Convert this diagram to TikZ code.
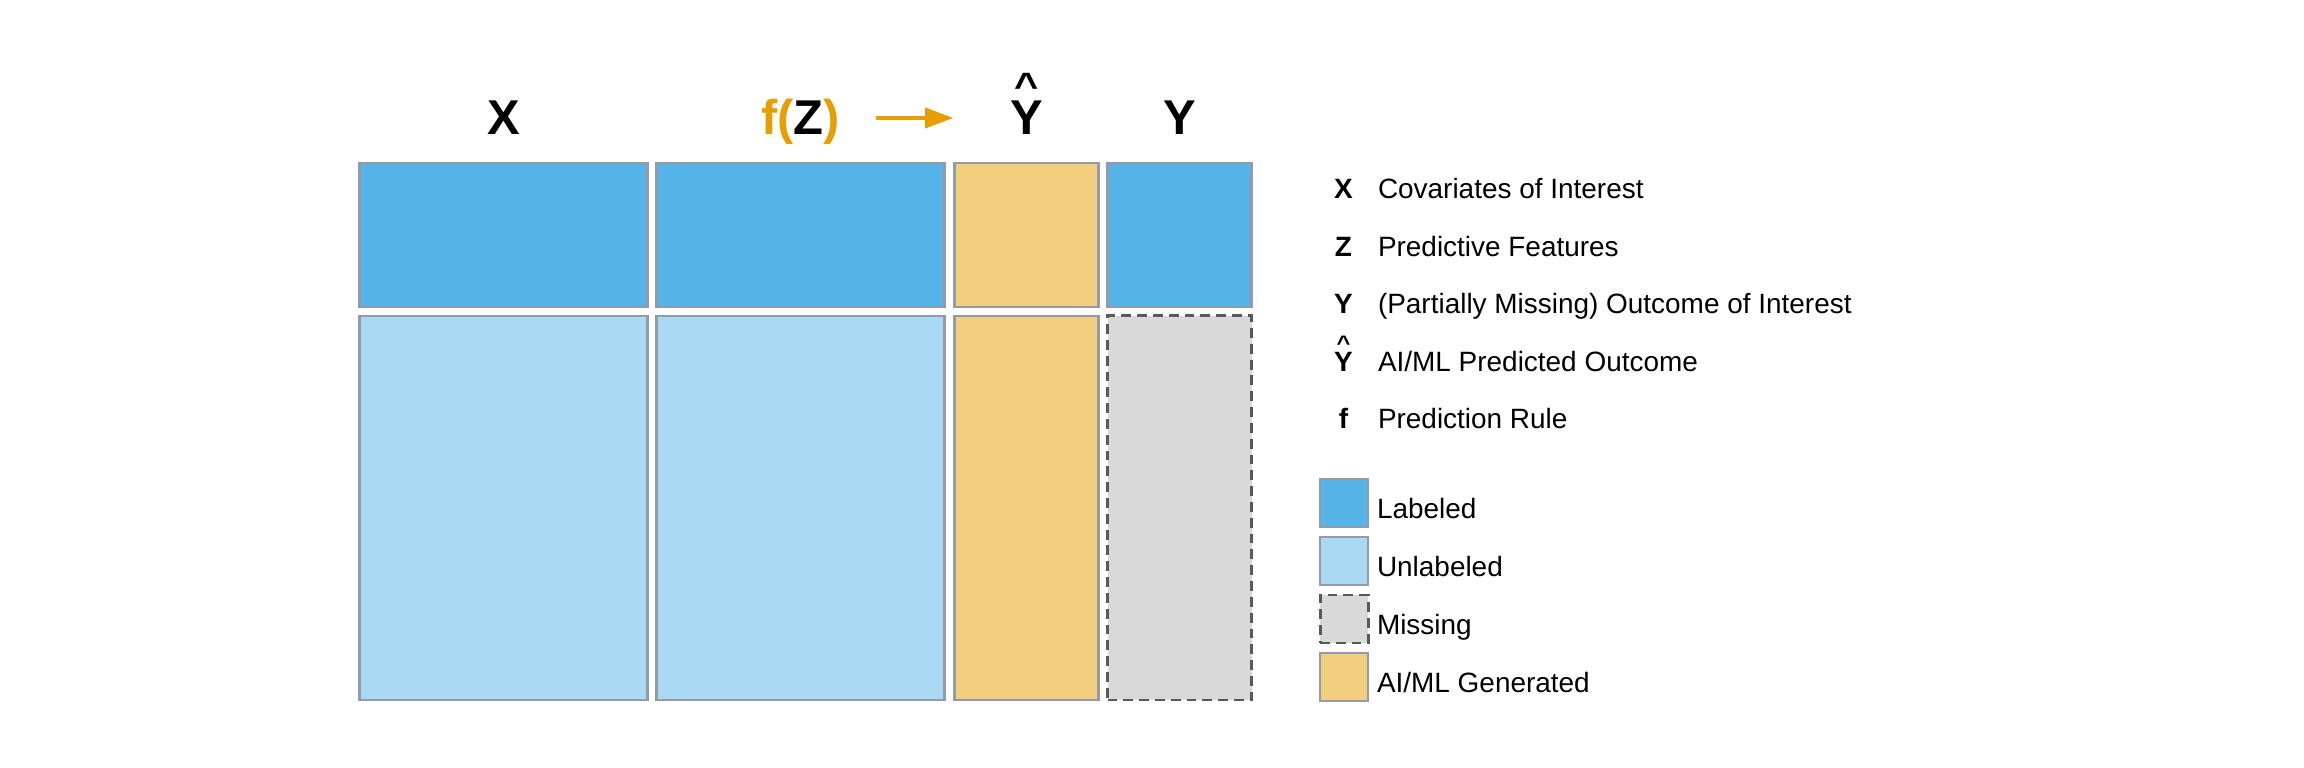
\documentclass[tikz,border=0pt]{standalone}
\usepackage{fontspec}
\setmainfont{Liberation Sans}
\usepackage{tikz}
\usetikzlibrary{arrows.meta, positioning}

\definecolor{skyblue}{HTML}{56B4E9}
\definecolor{paleblue}{HTML}{AAD9F4}
\definecolor{sand}{HTML}{F2CF7F}
\definecolor{ochre}{HTML}{E69F00}
\definecolor{missgray}{HTML}{D9D9D9}
\definecolor{edgegray}{HTML}{939BA8}
\definecolor{dashgray}{HTML}{595959}

\newcommand{\hatY}{\makebox[0pt][l]{\makebox[\fontcharwd\font`Y][c]{\raisebox{0.74em}{\scalebox{0.85}[0.75]{\textasciicircum}}}}Y}

\begin{document}
\begin{tikzpicture}[x=1cm, y=1cm, node distance=0.09cm]
\tikzset{every node/.style={inner sep=0mm, outer sep=0mm}}

\tikzstyle{cell}=[rectangle, draw=edgegray, line width=0.6pt]
\tikzstyle{labeled}=[cell, fill=skyblue]
\tikzstyle{unlabeled}=[cell, fill=paleblue]
\tikzstyle{generated}=[cell, fill=sand]
\tikzstyle{absent}=[rectangle, fill=missgray, draw=dashgray, line width=0.85pt, dash pattern=on 2.8pt off 1.7pt]
\tikzstyle{wide}=[minimum width=2.88cm]
\tikzstyle{narrow}=[minimum width=1.44cm]
\tikzstyle{toprow}=[minimum height=1.44cm]
\tikzstyle{lowrow}=[minimum height=3.84cm]
\tikzstyle{swatch}=[minimum width=0.48cm, minimum height=0.48cm]
\tikzstyle{head}=[font=\fontsize{13.9}{16}\selectfont\bfseries]
\tikzstyle{keyletter}=[font=\fontsize{7.95}{9.5}\selectfont\bfseries, anchor=base]
\tikzstyle{desc}=[font=\fontsize{7.95}{9.5}\selectfont, anchor=base west]
\tikzstyle{flow}=[-{Triangle[length=2.8mm, width=2mm]}, draw=ochre, line width=1.1pt]

\path[use as bounding box, fill=white] (0,0) rectangle (23.04,7.68);

% data table
\node[labeled, wide, toprow, anchor=north west] (x top) at (3.595,6.05) {};
\node[labeled, wide, toprow, right=of x top] (z top) {};
\node[generated, narrow, toprow, right=0.1cm of z top] (yhat top) {};
\node[labeled, narrow, toprow, right=of yhat top] (y top) {};

\node[unlabeled, wide, lowrow, below=of x top] (x bottom) {};
\node[unlabeled, wide, lowrow, below=of z top] (z bottom) {};
\node[generated, narrow, lowrow, below=of yhat top] (yhat bottom) {};
\node[absent, narrow, lowrow, below=of y top] (y bottom) {};

% column heads
\node[head, above=2.8mm of x top, anchor=base] (x label) {X};
\node[head, above=2.8mm of z top, anchor=base] (z label) {\textcolor{ochre}{f(}Z\textcolor{ochre}{)}};
\node[head, above=2.8mm of yhat top, anchor=base] (yhat label) {\hatY};
\node[head, above=2.8mm of y top, anchor=base] (y label) {Y};

\draw[flow] ([shift={(0.36,0.17)}]z label.base east) -- ([shift={(-0.57,0.17)}]yhat label.base west);

% symbols
\node[keyletter] (x key) at (13.435,5.69) {X};
\node[keyletter] (z key) at (13.435,5.115) {Z};
\node[keyletter] (y key) at (13.435,4.54) {Y};
\node[keyletter] (yhat key) at (13.435,3.965) {\hatY};
\node[keyletter] (f key) at (13.435,3.39) {f};

\node[desc] (x desc) at (13.78,5.69) {Covariates of Interest};
\node[desc] (z desc) at (13.78,5.115) {Predictive Features};
\node[desc] (y desc) at (13.78,4.54) {(Partially Missing) Outcome of Interest};
\node[desc] (yhat desc) at (13.78,3.965) {AI/ML Predicted Outcome};
\node[desc] (f desc) at (13.78,3.39) {Prediction Rule};

% colour key
\node[labeled, swatch, anchor=north west] (labeled box) at (13.20,2.89) {};
\node[unlabeled, swatch, below=0.1cm of labeled box] (unlabeled box) {};
\node[absent, swatch, below=0.1cm of unlabeled box] (missing box) {};
\node[generated, swatch, below=0.1cm of missing box] (generated box) {};

\node[desc] (labeled text) at ([shift={(0.09,-0.16)}]labeled box.east) {Labeled};
\node[desc] (unlabeled text) at ([shift={(0.09,-0.16)}]unlabeled box.east) {Unlabeled};
\node[desc] (missing text) at ([shift={(0.09,-0.16)}]missing box.east) {Missing};
\node[desc] (generated text) at ([shift={(0.09,-0.16)}]generated box.east) {AI/ML Generated};

\end{tikzpicture}
\end{document}
